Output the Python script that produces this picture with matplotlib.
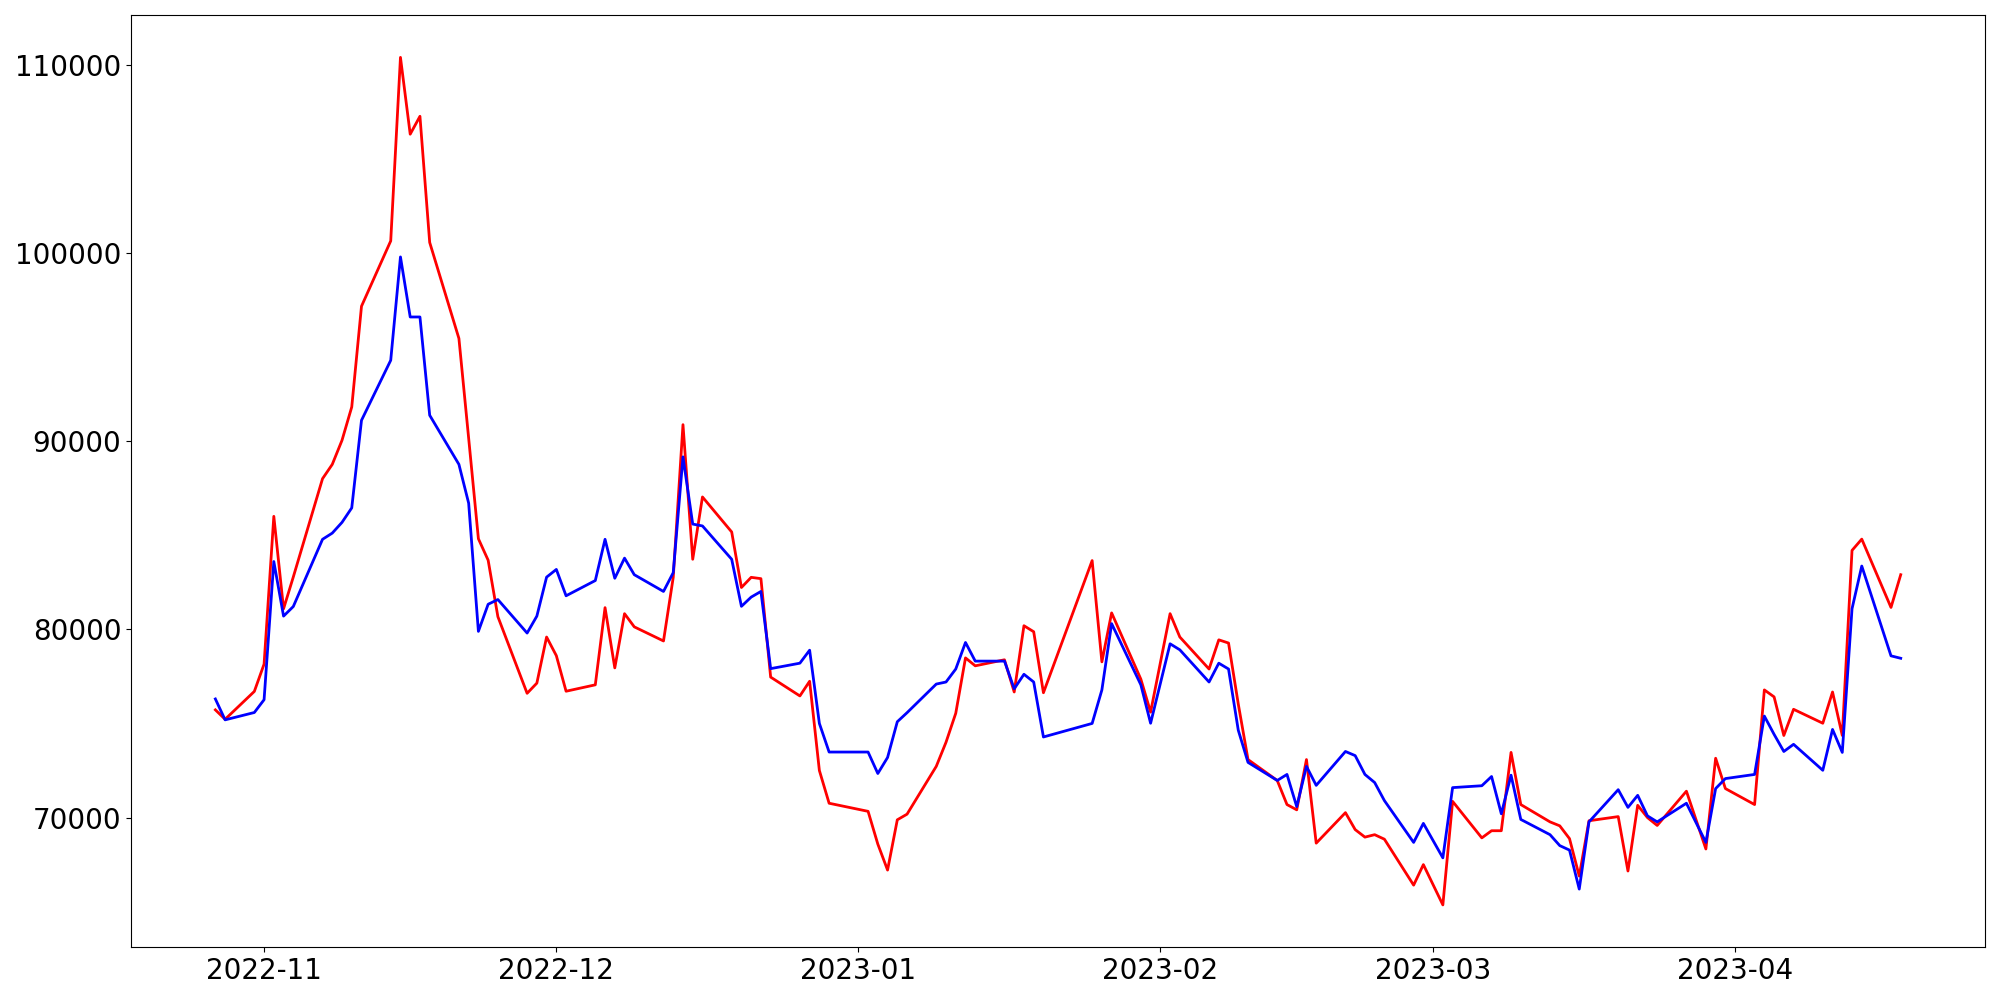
import pandas as pd
import matplotlib
matplotlib.use('Agg')
import matplotlib.pyplot as plt

# торговые дни
dates = [
    '2022-10-27', '2022-10-28', '2022-10-31',
    '2022-11-01', '2022-11-02', '2022-11-03', '2022-11-04', '2022-11-07', '2022-11-08',
    '2022-11-09', '2022-11-10', '2022-11-11', '2022-11-14', '2022-11-15', '2022-11-16',
    '2022-11-17', '2022-11-18', '2022-11-21', '2022-11-22', '2022-11-23', '2022-11-24',
    '2022-11-25', '2022-11-28', '2022-11-29', '2022-11-30',
    '2022-12-01', '2022-12-02', '2022-12-05', '2022-12-06', '2022-12-07', '2022-12-08',
    '2022-12-09', '2022-12-12', '2022-12-13', '2022-12-14', '2022-12-15', '2022-12-16',
    '2022-12-19', '2022-12-20', '2022-12-21', '2022-12-22', '2022-12-23', '2022-12-26',
    '2022-12-27', '2022-12-28', '2022-12-29',
    '2023-01-02', '2023-01-03', '2023-01-04', '2023-01-05', '2023-01-06', '2023-01-09',
    '2023-01-10', '2023-01-11', '2023-01-12', '2023-01-13', '2023-01-16', '2023-01-17',
    '2023-01-18', '2023-01-19', '2023-01-20', '2023-01-25', '2023-01-26', '2023-01-27',
    '2023-01-30', '2023-01-31',
    '2023-02-02', '2023-02-03', '2023-02-06', '2023-02-07', '2023-02-08', '2023-02-09',
    '2023-02-10', '2023-02-13', '2023-02-14', '2023-02-15', '2023-02-16', '2023-02-17',
    '2023-02-20', '2023-02-21', '2023-02-22', '2023-02-23', '2023-02-24', '2023-02-27',
    '2023-02-28',
    '2023-03-02', '2023-03-03', '2023-03-06', '2023-03-07', '2023-03-08', '2023-03-09',
    '2023-03-10', '2023-03-13', '2023-03-14', '2023-03-15', '2023-03-16', '2023-03-17',
    '2023-03-20', '2023-03-21', '2023-03-22', '2023-03-23', '2023-03-24', '2023-03-27',
    '2023-03-29', '2023-03-30', '2023-03-31',
    '2023-04-03', '2023-04-04', '2023-04-05', '2023-04-06', '2023-04-07', '2023-04-10',
    '2023-04-11', '2023-04-12', '2023-04-13', '2023-04-14', '2023-04-17', '2023-04-18',
]

# красная линия
red_values = [
    75720, 75220, 76700,
    78150, 86000, 81090, 82780, 88000, 88760,
    90040, 91810, 97160, 100630, 110380, 106300,
    107250, 100550, 95450, 90150, 84810, 83670,
    80670, 76600, 77140, 79590,
    78600, 76710, 77050, 81150, 77950, 80830,
    80130, 79380, 82760, 90870, 83720, 87030,
    85170, 82220, 82760, 82690, 77460, 76460,
    77240, 72500, 70760,
    70330, 68590, 67210, 69880, 70180, 72720,
    74000, 75540, 78480, 78060, 78380, 76670,
    80190, 79870, 76630, 83650, 78270, 80870,
    77350, 75600,
    80830, 79590, 77890, 79440, 79270, 76030,
    73080, 71970, 70690, 70410, 73080, 68640,
    70260, 69360, 68960, 69090, 68850, 66410,
    67500,
    65360, 70860, 68920, 69300, 69300, 73460,
    70690, 69770, 69560, 68880, 66890, 69830,
    70050, 67160, 70650, 70000, 69580, 71400,
    68330, 73150, 71540,
    70690, 76780, 76410, 74360, 75750, 75010,
    76670, 74360, 84190, 84790, 81160, 82900,
]

# синяя линия
blue_values = [
    76300, 75190, 75580,
    76260, 83600, 80700, 81210, 84780, 85110,
    85680, 86450, 91100, 94290, 99780, 96590,
    96590, 91370, 88760, 86700, 79890, 81330,
    81580, 79800, 80700, 82770,
    83180, 81780, 82590, 84780, 82710, 83780,
    82900, 82010, 83010, 89160, 85590, 85490,
    83720, 81220, 81710, 82010, 77910, 78200,
    78890, 75000, 73480,
    73480, 72340, 73190, 75090, 75570, 77090,
    77200, 77890, 79300, 78310, 78310, 76840,
    77610, 77200, 74280, 75000, 76780, 80300,
    77050, 75010,
    79230, 78910, 77200, 78200, 77890, 74640,
    72930, 71970, 72290, 70580, 72720, 71710,
    73510, 73290, 72290, 71860, 70900, 68680,
    69690,
    67860, 71590, 71690, 72180, 70200, 72250,
    69900, 69090, 68510, 68270, 66200, 69770,
    71480, 70540, 71180, 70090, 69770, 70760,
    68680, 71540, 72070,
    72290, 75390, 74420, 73510, 73890, 72510,
    74680, 73460, 81090, 83360, 78590, 78460,
]

t = pd.to_datetime(dates)

plt.figure(figsize=(20, 10), dpi=100)
plt.plot(t, red_values, color='red', linewidth=2)
plt.plot(t, blue_values, color='blue', linewidth=2)
plt.xticks(fontsize=20)
plt.yticks(fontsize=20)
plt.tight_layout()
plt.savefig('out.png')
